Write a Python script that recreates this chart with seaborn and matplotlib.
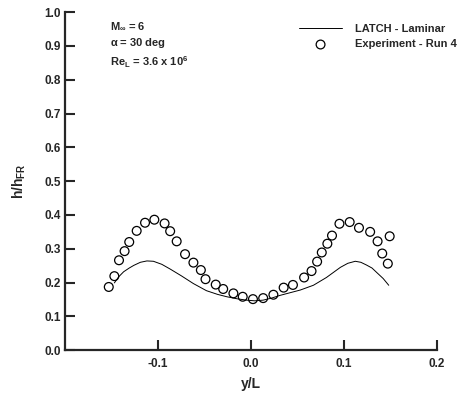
import matplotlib
matplotlib.use("Agg")
import matplotlib.pyplot as plt
import pandas as pd
import seaborn as sns

# LATCH laminar prediction
latch_x = [-0.147, -0.142, -0.137, -0.131, -0.126, -0.119, -0.112, -0.105, -0.096, -0.087,
           -0.075, -0.062, -0.048, -0.036, -0.026, -0.015, -0.005, 0.004, 0.013, 0.022,
           0.031, 0.042, 0.053, 0.067, 0.081, 0.089, 0.096, 0.104, 0.112, 0.118,
           0.124, 0.130, 0.135, 0.142, 0.148]
latch_y = [0.199, 0.218, 0.232, 0.243, 0.251, 0.260, 0.264, 0.263, 0.254, 0.240,
           0.220, 0.197, 0.176, 0.165, 0.158, 0.152, 0.148, 0.146, 0.148, 0.154,
           0.162, 0.170, 0.178, 0.192, 0.215, 0.231, 0.245, 0.257, 0.263, 0.260,
           0.252, 0.243, 0.230, 0.212, 0.192]

# Experiment - Run 4
exp_x = [-0.153, -0.147, -0.142, -0.136, -0.131, -0.123, -0.114, -0.104, -0.093, -0.087,
         -0.080, -0.071, -0.062, -0.054, -0.049, -0.038, -0.030, -0.019, -0.009, 0.002,
         0.013, 0.024, 0.035, 0.045, 0.057, 0.065, 0.071, 0.076, 0.082, 0.087,
         0.095, 0.106, 0.116, 0.128, 0.136, 0.141, 0.147, 0.149]
exp_y = [0.187, 0.219, 0.266, 0.293, 0.320, 0.353, 0.377, 0.386, 0.375, 0.352,
         0.322, 0.284, 0.259, 0.237, 0.210, 0.194, 0.181, 0.168, 0.158, 0.151,
         0.154, 0.164, 0.185, 0.193, 0.215, 0.234, 0.262, 0.289, 0.315, 0.339,
         0.374, 0.379, 0.362, 0.350, 0.322, 0.286, 0.256, 0.337]

x_ticks = [-0.1, 0.0, 0.1, 0.2]
y_ticks = [0.0, 0.1, 0.2, 0.3, 0.4, 0.5, 0.6, 0.7, 0.8, 0.9, 1.0]

sns.set_theme(style="ticks")
plt.rcParams["font.family"] = ["Liberation Sans", "DejaVu Sans"]
plt.rcParams["font.weight"] = "bold"
plt.rcParams["mathtext.fontset"] = "custom"
plt.rcParams["mathtext.rm"] = "Liberation Sans:bold"
plt.rcParams["mathtext.it"] = "Liberation Sans:bold"
plt.rcParams["mathtext.bf"] = "Liberation Sans:bold"

latch = pd.DataFrame({"x": latch_x, "y": latch_y})
exp = pd.DataFrame({"x": exp_x, "y": exp_y})

fig = plt.figure(figsize=(4.68, 3.93), dpi=100)
ax = fig.add_axes([0.139, 0.109, 0.795, 0.860])

sns.lineplot(data=latch, x="x", y="y", color="black", linewidth=0.7,
             label="LATCH - Laminar", ax=ax, sort=False)
sns.scatterplot(data=exp, x="x", y="y", marker="o", s=40, facecolor="none",
                edgecolor="black", linewidth=0.9, label="Experiment - Run 4", ax=ax)

ax.set_xlim(-0.2, 0.2)
ax.set_ylim(0.0, 1.0)
ax.set_xticks(x_ticks)
ax.set_yticks(y_ticks)
ax.set_xticklabels([f"{v:.1f}" for v in x_ticks], fontsize=8.5, fontweight="bold")
ax.set_yticklabels([f"{v:.1f}" for v in y_ticks], fontsize=8.5, fontweight="bold")
ax.tick_params(direction="in", length=7, width=1.5)
ax.tick_params(axis="x", pad=6)
ax.tick_params(axis="y", pad=3)

sns.despine(ax=ax)
for side in ["left", "bottom"]:
    ax.spines[side].set_linewidth(1.6)

ax.set_xlabel("y/L", fontsize=10, fontweight="bold", labelpad=5)
ax.set_ylabel(r"h/h$_{\mathrm{FR}}$", fontsize=10, fontweight="bold", labelpad=12)

ax.text(0.12, 0.975, "M$_\\infty$ = 6\n$\\alpha$ = 30 deg\nRe$_\\mathrm{L}$ = 3.6 x 10$^6$",
        transform=ax.transAxes, fontsize=8, fontweight="bold", va="top",
        linespacing=1.35)

ax.legend(loc="upper right", bbox_to_anchor=(1.08, 0.995), frameon=False,
          handlelength=3.8, handletextpad=1.2, labelspacing=0.5,
          prop={"weight": "bold", "size": 8})

fig.savefig("out.png", dpi=100)
